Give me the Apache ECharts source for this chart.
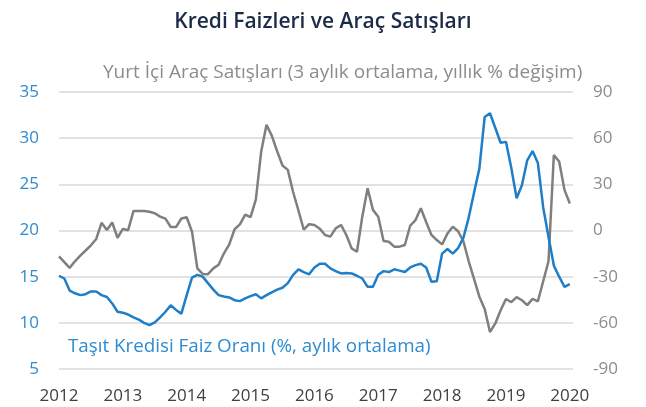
<!DOCTYPE html>
<html>
<head>
<meta charset="utf-8">
<script src="https://cdn.jsdelivr.net/npm/echarts@6/dist/echarts.min.js"></script>
<style>
  html, body { margin: 0; padding: 0; background: #fff; }
  #chart { width: 646px; height: 407px; }
</style>
</head>
<body>
<div id="chart"></div>
<script>
// Monthly, Jan 2012 .. Jan 2020 (97 points)
const yearTicks = [2012, 2013, 2014, 2015, 2016, 2017, 2018, 2019, 2020];

// Taşıt Kredisi Faiz Oranı (%, aylık ortalama) - left axis
const loanRate = [
  15.1, 14.8, 13.5, 13.2, 13.0, 13.1, 13.4, 13.4, 13.0, 12.8, 12.1, 11.2,
  11.1, 10.9, 10.6, 10.35, 10.0, 9.75, 10.05, 10.6, 11.2, 11.9, 11.4, 11.0,
  13.0, 14.9, 15.2, 15.0, 14.3, 13.6, 13.0, 12.85, 12.75, 12.45, 12.35, 12.65,
  12.9, 13.1, 12.65, 13.0, 13.3, 13.6, 13.8, 14.3, 15.2, 15.8, 15.5, 15.25,
  16.0, 16.4, 16.4, 15.9, 15.6, 15.35, 15.4, 15.35, 15.1, 14.8, 13.9, 13.9,
  15.2, 15.6, 15.5, 15.8, 15.65, 15.5, 16.0, 16.25, 16.4, 16.0, 14.45, 14.5,
  17.5, 18.0, 17.5, 18.1, 19.2, 21.4, 24.1, 26.7, 32.3, 32.7, 31.1, 29.5,
  29.6, 26.8, 23.5, 24.9, 27.6, 28.6, 27.3, 22.5, 19.3, 16.2, 15.0, 13.9,
  14.2
];

// Yurt İçi Araç Satışları (3 aylık ortalama, yıllık % değişim) - right axis
const carSales = [
  -16.8, -20.5, -24.3, -20.0, -16.3, -13.0, -9.6, -5.5, 5.0, 0.3, 5.2, -4.7,
  1.0, 0.2, 12.7, 12.7, 12.7, 12.2, 11.2, 9.0, 7.7, 2.3, 2.2, 7.8,
  8.6, -0.8, -24.6, -28.2, -28.4, -24.6, -22.2, -14.8, -9.0, 0.8, 4.0, 10.3,
  8.7, 20.2, 51.3, 68.7, 61.5, 51.5, 42.2, 39.4, 25.0, 13.0, 0.5, 4.1,
  3.6, 1.2, -2.9, -4.0, 1.4, 3.6, -2.9, -11.6, -13.8, 9.0, 27.5, 13.4,
  9.0, -6.8, -7.3, -10.5, -10.5, -9.4, 3.1, 6.8, 14.5, 5.5, -2.9, -6.2,
  -9.0, -2.0, 2.5, -0.5, -7.0, -20.0, -31.5, -43.0, -51.0, -66.0, -60.4, -51.8,
  -44.5, -46.6, -43.3, -45.3, -48.5, -44.4, -46.0, -33.0, -20.0, 49.0, 44.8, 26.4,
  17.5
];

const blue = '#1f7ec8';
const grey = '#7f7f7f';
const font = '"Open Sans"';

const chart = echarts.init(document.getElementById('chart'));

chart.setOption({
  animation: false,
  title: {
    text: 'Kredi Faizleri ve Araç Satışları',
    left: 'center',
    top: 7,
    textStyle: { fontFamily: font, fontSize: 21, fontWeight: 600, color: '#1c2b47' }
  },
  grid: { left: 59, right: 73, top: 92, bottom: 38 },
  xAxis: {
    type: 'value',
    min: 0,
    max: 96.6,
    interval: 12,
    axisLine: { show: false },
    axisTick: { show: false },
    splitLine: { show: false },
    axisLabel: {
      margin: 19,
      color: '#404040',
      fontFamily: font,
      fontSize: 17,
      formatter: v => (v % 12 === 0 ? String(yearTicks[v / 12]) : '')
    }
  },
  yAxis: [
    {
      type: 'value',
      min: 5,
      max: 35,
      interval: 5,
      axisLine: { show: false },
      axisTick: { show: false },
      splitLine: { lineStyle: { color: '#d9d9d9', width: 1.5 } },
      axisLabel: { margin: 20, color: '#2e8bd1', fontFamily: font, fontSize: 17 }
    },
    {
      type: 'value',
      min: -90,
      max: 90,
      interval: 30,
      position: 'right',
      axisLine: { show: false },
      axisTick: { show: false },
      splitLine: { show: false },
      axisLabel: { margin: 20, color: '#8c8c8c', fontFamily: font, fontSize: 17 }
    }
  ],
  graphic: [
    {
      type: 'text',
      left: 103,
      top: 63,
      style: {
        text: 'Yurt İçi Araç Satışları (3 aylık ortalama, yıllık % değişim)',
        fill: '#8c8c8c',
        font: '19px ' + font
      }
    },
    {
      type: 'text',
      left: 68,
      top: 337,
      style: {
        text: 'Taşıt Kredisi Faiz Oranı (%, aylık ortalama)',
        fill: '#2e8bd1',
        font: '18.8px ' + font
      }
    }
  ],
  series: [
    {
      name: 'Yurt İçi Araç Satışları',
      type: 'line',
      yAxisIndex: 1,
      showSymbol: false,
      data: carSales.map((v, i) => [i, v]),
      lineStyle: { color: grey, width: 2.5 }
    },
    {
      name: 'Taşıt Kredisi Faiz Oranı',
      type: 'line',
      yAxisIndex: 0,
      showSymbol: false,
      data: loanRate.map((v, i) => [i, v]),
      lineStyle: { color: blue, width: 2.5 }
    }
  ]
});
</script>
</body>
</html>
